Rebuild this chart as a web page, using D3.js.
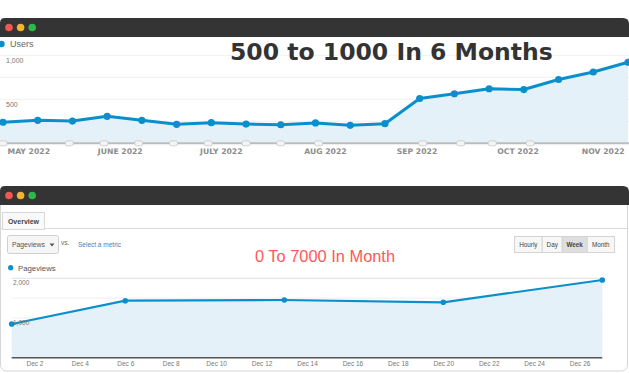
<!DOCTYPE html>
<html>
<head>
<meta charset="utf-8">
<script src="https://cdn.jsdelivr.net/npm/d3@7"></script>
<style>
  body { margin: 0; background: #fff; }
  svg { display: block; }
</style>
</head>
<body>
<script>
// top chart: weekly users
var usersDates = ["2022-04-23", "2022-05-04", "2022-05-15", "2022-05-26", "2022-06-06", "2022-06-17",
  "2022-06-28", "2022-07-09", "2022-07-20", "2022-07-31", "2022-08-11", "2022-08-22", "2022-09-02",
  "2022-09-13", "2022-09-24", "2022-10-05", "2022-10-16", "2022-10-27", "2022-11-07"];
var usersValues = [239, 261, 253, 307, 261, 216, 234, 219, 211, 231, 204, 223, 509, 563, 620, 611, 725, 810, 921];
// label positions (not exactly on the 1st of each month)
var monthTicks = ["2022-05-01", "2022-05-30", "2022-07-01", "2022-08-03", "2022-09-01", "2022-10-03", "2022-10-30"];
var monthLabels = ["MAY 2022", "JUNE 2022", "JULY 2022", "AUG 2022", "SEP 2022", "OCT 2022", "NOV 2022"];
var usersYTicks = [500, 1000];
var annotationDates = ["2022-04-23", "2022-05-14", "2022-05-25", "2022-06-05", "2022-06-16", "2022-06-27",
  "2022-07-09", "2022-07-20", "2022-08-01", "2022-09-03", "2022-09-15", "2022-09-25", "2022-10-07"];

// bottom chart: pageviews by week
var pvDates = ["2022-12-01", "2022-12-06", "2022-12-13", "2022-12-20", "2022-12-27"];
var pvValues = [849, 1436, 1453, 1395, 1957];
var pvTicks = ["2022-12-02", "2022-12-04", "2022-12-06", "2022-12-08", "2022-12-10", "2022-12-12", "2022-12-14",
  "2022-12-16", "2022-12-18", "2022-12-20", "2022-12-22", "2022-12-24", "2022-12-26"];
var pvYTicks = [1000, 2000];
var periodButtons = ["Hourly", "Day", "Week", "Month"];

var parse = d3.timeParse("%Y-%m-%d");
var blue = "#0b8fcc", fillBlue = "#e4f1f9";

var width = 629, height = 373;
var svg = d3.select("body").append("svg")
    .attr("width", width)
    .attr("height", height);

// window chrome
function windowBar(y, h) {
  svg.append("path")
     .attr("fill", "#343434")
     .attr("d", "M0," + (y + h) + "V" + (y + 5) + "Q0," + y + " 5," + y + "H" + (width - 6) +
          "Q" + width + "," + y + " " + width + "," + (y + 6) + "V" + (y + h) + "Z");
  var dots = ["#ef5a50", "#f5b42e", "#2eb845"];
  svg.selectAll(null).data(dots).enter().append("circle")
     .attr("cx", function(d, i) { return 9 + i * 11.6; })
     .attr("cy", y + h / 2)
     .attr("r", 3.8)
     .attr("fill", function(d) { return d; });
}

// ---------- top window ----------
windowBar(18, 19);

var x1 = d3.scaleTime()
    .domain([parse(usersDates[0]), parse(usersDates[usersDates.length - 1])])
    .range([3, 628]);
var y1 = d3.scaleLinear()
    .domain([0, 1000])
    .range([143.3, 55.3]);

var topG = svg.append("g");

// gridlines
topG.selectAll(".grid").data([250, 500, 750, 1000]).enter().append("line")
   .attr("x1", 0).attr("x2", width)
   .attr("y1", function(d) { return y1(d); })
   .attr("y2", function(d) { return y1(d); })
   .attr("stroke", "#f1f1f1");

var area1 = d3.area()
    .x(function(d, i) { return x1(parse(usersDates[i])); })
    .y0(y1(0))
    .y1(function(d) { return y1(d); });
var line1 = d3.line()
    .x(function(d, i) { return x1(parse(usersDates[i])); })
    .y(function(d) { return y1(d); });

topG.append("path").attr("fill", fillBlue).attr("d", area1(usersValues));
topG.append("rect").attr("x", 0).attr("width", 3)
   .attr("y", y1(usersValues[0])).attr("height", y1(0) - y1(usersValues[0]))
   .attr("fill", fillBlue);
topG.append("path")
   .attr("fill", "none").attr("stroke", blue).attr("stroke-width", 3)
   .attr("stroke-linejoin", "round")
   .attr("d", line1(usersValues));
topG.selectAll(".pt").data(usersValues).enter().append("circle")
   .attr("cx", function(d, i) { return x1(parse(usersDates[i])); })
   .attr("cy", function(d) { return y1(d); })
   .attr("r", 3.6)
   .attr("fill", blue);

// axis line + annotation markers
topG.append("line").attr("x1", 0).attr("x2", width)
   .attr("y1", y1(0)).attr("y2", y1(0))
   .attr("stroke", "#bdbdbd").attr("stroke-width", 2);
topG.selectAll(".ann").data(annotationDates).enter().append("rect")
   .attr("x", function(d) { return x1(parse(d)) - 4; })
   .attr("y", y1(0) - 2.5)
   .attr("width", 8).attr("height", 5).attr("rx", 2)
   .attr("fill", "#f4f4f4").attr("stroke", "#c8c8c8").attr("stroke-width", 0.8);

// month labels
var xAxis1 = topG.append("g")
    .attr("transform", "translate(0," + (y1(0) + 2) + ")")
    .call(d3.axisBottom(x1)
      .tickValues(monthTicks.map(parse))
      .tickSize(0)
      .tickFormat(function(d, i) { return monthLabels[i]; }));
xAxis1.select(".domain").remove();
xAxis1.selectAll("text")
   .attr("dy", "0.71em")
   .attr("y", 3)
   .attr("fill", "#8c8c8c")
   .style("font-family", "DejaVu Sans")
   .style("font-weight", "bold")
   .style("font-size", "7.7px");

// y labels
topG.selectAll(".ylab").data(usersYTicks).enter().append("text")
   .attr("x", 6)
   .attr("y", function(d) { return y1(d) + 8; })
   .attr("fill", "#777")
   .style("font-family", "Liberation Sans")
   .style("font-size", "7px")
   .text(function(d) { return d3.format(",")(d); });

// legend
topG.append("circle").attr("cx", 1.5).attr("cy", 44).attr("r", 3.2).attr("fill", blue);
topG.append("text").attr("x", 10).attr("y", 47.2)
   .attr("fill", "#666")
   .style("font-family", "Liberation Sans")
   .style("font-size", "9px")
   .text("Users");

// title
topG.append("text").attr("x", 230).attr("y", 60)
   .attr("fill", "#333")
   .style("font-family", "DejaVu Sans")
   .style("font-weight", "bold")
   .style("font-size", "23.5px")
   .text("500 to 1000 In 6 Months");

// ---------- bottom window ----------
svg.append("rect")
   .attr("x", 0.5).attr("y", 190).attr("width", 627).attr("height", 181).attr("rx", 6)
   .attr("fill", "#fff").attr("stroke", "#d6d6d6");
windowBar(186, 19);

var bot = svg.append("g");

// tab strip
bot.append("line").attr("x1", 1).attr("x2", 627).attr("y1", 228.5).attr("y2", 228.5)
   .attr("stroke", "#dcdcdc");
bot.append("rect").attr("x", 2.5).attr("y", 212.5).attr("width", 42).attr("height", 17)
   .attr("fill", "#fafafa").attr("stroke", "#d8d8d8");
bot.append("text").attr("x", 23.5).attr("y", 223.5).attr("text-anchor", "middle")
   .attr("fill", "#444")
   .style("font-family", "Liberation Sans").style("font-weight", "bold").style("font-size", "7px")
   .text("Overview");

// metric selector
bot.append("rect").attr("x", 7.5).attr("y", 235.5).attr("width", 51).attr("height", 18).attr("rx", 2)
   .attr("fill", "#f6f6f6").attr("stroke", "#cfcfcf");
bot.append("text").attr("x", 12).attr("y", 247)
   .attr("fill", "#555")
   .style("font-family", "Liberation Sans").style("font-size", "6.8px")
   .text("Pageviews");
bot.append("path").attr("d", "M49.5,243.5h5l-2.5,3z").attr("fill", "#555");
bot.append("text").attr("x", 61).attr("y", 245)
   .attr("fill", "#666")
   .style("font-family", "Liberation Sans").style("font-size", "6.5px")
   .text("vs.");
bot.append("text").attr("x", 78).attr("y", 247)
   .attr("fill", "#3b7fc0")
   .style("font-family", "Liberation Sans").style("font-size", "6.5px")
   .text("Select a metric");

// period buttons
var btnX = d3.scaleOrdinal().domain(periodButtons).range([514, 541.7, 561.7, 586.7]);
var btnW = d3.scaleOrdinal().domain(periodButtons).range([27.7, 20, 25, 27.3]);
var btn = bot.selectAll(".btn").data(periodButtons).enter().append("g");
btn.append("rect")
   .attr("x", function(d) { return btnX(d) + 0.5; })
   .attr("y", 236.5)
   .attr("width", function(d) { return btnW(d); })
   .attr("height", 16)
   .attr("fill", function(d) { return d === "Week" ? "#dedede" : "#f7f7f7"; })
   .attr("stroke", "#d4d4d4");
btn.append("text")
   .attr("x", function(d) { return btnX(d) + btnW(d) / 2 + 0.5; })
   .attr("y", 246.8)
   .attr("text-anchor", "middle")
   .attr("fill", "#444")
   .style("font-family", "Liberation Sans").style("font-size", "6.3px")
   .style("font-weight", function(d) { return d === "Week" ? "bold" : "normal"; })
   .text(function(d) { return d; });

// red headline
bot.append("text").attr("x", 255).attr("y", 261.7)
   .attr("fill", "#ff5757")
   .style("font-family", "Liberation Sans").style("font-size", "16.4px")
   .text("0 To 7000 In Month");

// legend
bot.append("circle").attr("cx", 10.7).attr("cy", 267.7).attr("r", 2.6).attr("fill", blue);
bot.append("text").attr("x", 18).attr("y", 270.5)
   .attr("fill", "#555")
   .style("font-family", "Liberation Sans").style("font-size", "7.8px")
   .text("Pageviews");

var x2 = d3.scaleTime()
    .domain([parse(pvDates[0]), parse(pvDates[pvDates.length - 1])])
    .range([11.7, 602.3]);
var y2 = d3.scaleLinear()
    .domain([0, 2000])
    .range([357.7, 278.3]);

bot.selectAll(".grid2").data([500, 1000, 1500, 2000]).enter().append("line")
   .attr("x1", x2.range()[0]).attr("x2", x2.range()[1])
   .attr("y1", function(d) { return y2(d); })
   .attr("y2", function(d) { return y2(d); })
   .attr("stroke", function(d) { return d === 2000 ? "#e2e2e2" : "#efefef"; });

var area2 = d3.area()
    .x(function(d, i) { return x2(parse(pvDates[i])); })
    .y0(y2(0))
    .y1(function(d) { return y2(d); });
var line2 = d3.line()
    .x(function(d, i) { return x2(parse(pvDates[i])); })
    .y(function(d) { return y2(d); });

bot.append("path").attr("fill", fillBlue).attr("d", area2(pvValues));
bot.append("path")
   .attr("fill", "none").attr("stroke", blue).attr("stroke-width", 2.2)
   .attr("d", line2(pvValues));
bot.selectAll(".pt2").data(pvValues).enter().append("circle")
   .attr("cx", function(d, i) { return x2(parse(pvDates[i])); })
   .attr("cy", function(d) { return y2(d); })
   .attr("r", 2.8)
   .attr("fill", blue);

bot.append("line").attr("x1", x2.range()[0]).attr("x2", x2.range()[1])
   .attr("y1", y2(0)).attr("y2", y2(0))
   .attr("stroke", "#555").attr("stroke-width", 1.6);

var xAxis2 = bot.append("g")
    .attr("transform", "translate(0," + y2(0) + ")")
    .call(d3.axisBottom(x2)
      .tickValues(pvTicks.map(parse))
      .tickSize(0)
      .tickFormat(d3.timeFormat("Dec %-d")));
xAxis2.select(".domain").remove();
xAxis2.selectAll("text")
   .attr("y", 4)
   .attr("fill", "#777")
   .style("font-family", "Liberation Sans")
   .style("font-size", "6.5px");

bot.selectAll(".ylab2").data(pvYTicks).enter().append("text")
   .attr("x", 13)
   .attr("y", function(d) { return y2(d) + 7; })
   .attr("fill", "#777")
   .style("font-family", "Liberation Sans")
   .style("font-size", "6.5px")
   .text(function(d) { return d3.format(",")(d); });
</script>
</body>
</html>
